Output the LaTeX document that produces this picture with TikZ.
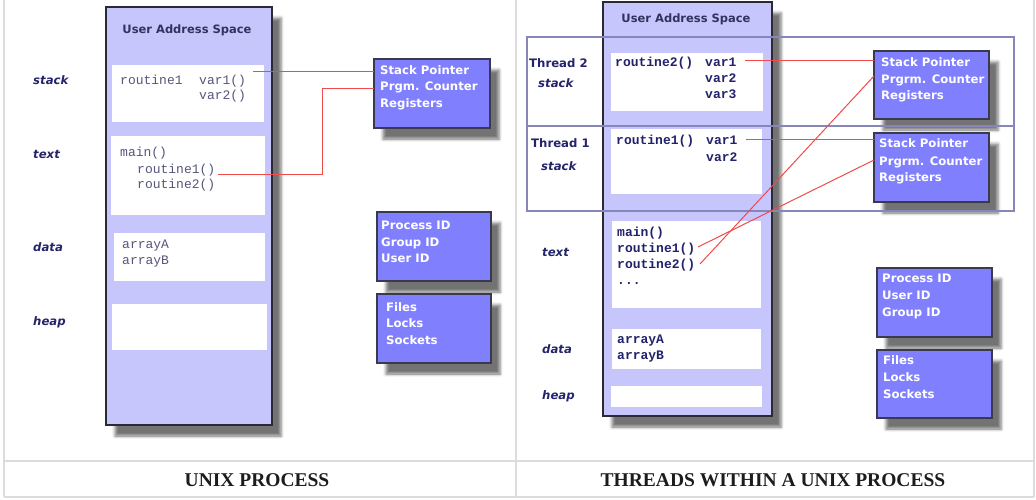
\documentclass[tikz,border=0pt]{standalone}
\usepackage{fontspec}
\usetikzlibrary{shadows.blur}
\newfontfamily\uisans{DejaVu Sans}
\newfontfamily\codemono{Liberation Mono}
\newfontfamily\capserif{Liberation Serif}
\definecolor{lav}{HTML}{C6C6FC}
\definecolor{regfill}{HTML}{8080FF}
\definecolor{regline}{HTML}{3A3A4E}
\definecolor{boxline}{HTML}{2A2A34}
\definecolor{navy}{HTML}{24246A}
\definecolor{titlenavy}{HTML}{32325E}
\definecolor{codegray}{HTML}{56567A}
\definecolor{codenavy}{HTML}{22226C}
\definecolor{wirered}{HTML}{F04A4A}
\definecolor{rulegray}{HTML}{DCDCDC}
\definecolor{rowline}{HTML}{8686B8}
\definecolor{capink}{HTML}{1C1C1C}
\begin{document}
\begin{tikzpicture}[x=1pt,y=-1pt,
  softshadow/.style={blur shadow={shadow xshift=9pt, shadow yshift=-11pt,
      shadow blur radius=3pt, shadow opacity=55}},
  addrbox/.style={draw=boxline, line width=1.3pt, fill=lav, inner sep=0pt,
      outer sep=0pt, anchor=north west, softshadow},
  segbox/.style={fill=white, inner sep=0pt, outer sep=0pt, anchor=north west},
  regbox/.style={draw=regline, line width=1.3pt, fill=regfill, inner sep=0pt,
      outer sep=0pt, anchor=north west, softshadow},
  title/.style={font=\uisans\fontsize{11.5}{13}\selectfont\bfseries,
      text=titlenavy, anchor=base, inner sep=0pt},
  seglabel/.style={font=\uisans\fontsize{11.7}{13}\selectfont\bfseries\itshape,
      text=navy, anchor=base west, inner sep=0pt},
  threadlabel/.style={font=\uisans\fontsize{11.7}{13}\selectfont\bfseries,
      text=navy, anchor=base west, inner sep=0pt},
  regtext/.style={font=\uisans\fontsize{11.7}{13}\selectfont\bfseries,
      text=white, anchor=base west, inner sep=0pt},
  codeL/.style={font=\codemono\fontsize{13}{15}\selectfont,
      text=codegray, anchor=base west, inner sep=0pt},
  codeR/.style={font=\codemono\fontsize{13}{15}\selectfont\bfseries,
      text=codenavy, anchor=base west, inner sep=0pt},
  caption/.style={font=\capserif\fontsize{19.5}{22}\selectfont\bfseries,
      text=capink, anchor=base, inner sep=0pt},
  rule/.style={draw=rulegray, line width=1.3pt},
  rowframe/.style={draw=rowline, line width=1.3pt},
  wire/.style={draw=wirered, line width=1pt}
]
\useasboundingbox (0,0) rectangle (1036,500);

% table rules
\draw[rule] (4,0) -- (4,497);
\draw[rule] (516,0) -- (516,497);
\draw[rule] (1034,0) -- (1034,497);
\draw[rule] (4,461) -- (1034,461);
\draw[rule] (4,497) -- (1034,497);

% ---------------- single-threaded process ----------------
\node[addrbox, minimum width=166pt, minimum height=418pt] (L) at (106,7) {};
\node[title] (Ltitle) at (187,34) {User Address Space};
\node[segbox, minimum width=152pt, minimum height=57pt] (Lstack) at (112,65) {};
\node[segbox, minimum width=154pt, minimum height=79pt] (Ltext) at (111,136) {};
\node[segbox, minimum width=151pt, minimum height=48pt] (Ldata) at (114,233) {};
\node[segbox, minimum width=155pt, minimum height=46pt] (Lheap) at (112,304) {};

\node[seglabel] (LlStack) at (33,85) {stack};
\node[seglabel] (LlText) at (33,159) {text};
\node[seglabel] (LlData) at (33,251) {data};
\node[seglabel] (LlHeap) at (33,325) {heap};

\node[codeL] (Lr1) at (120,85) {routine1};
\node[codeL] (Lv1) at (199,85) {var1()};
\node[codeL] (Lv2) at (199,100) {var2()};
\node[codeL] (Lmain) at (120,157) {main()};
\node[codeL] (Lcall1) at (137,173) {routine1()};
\node[codeL] (Lcall2) at (137,188) {routine2()};
\node[codeL] (LarrA) at (122,248) {arrayA};
\node[codeL] (LarrB) at (122,264) {arrayB};

\node[regbox, minimum width=116pt, minimum height=69pt] (Lregs) at (374,59) {};
\node[regtext] (Lrg1) at (380,75) {Stack Pointer};
\node[regtext] (Lrg2) at (380,91) {Prgm. Counter};
\node[regtext] (Lrg3) at (380,108) {Registers};

\node[regbox, minimum width=114pt, minimum height=69pt] (Lids) at (377,212) {};
\node[regtext] (Lid1) at (381,229) {Process ID};
\node[regtext] (Lid2) at (381,246) {Group ID};
\node[regtext] (Lid3) at (381,262) {User ID};

\node[regbox, minimum width=114pt, minimum height=69pt] (Lres) at (377,294) {};
\node[regtext] (Lrs1) at (386,311) {Files};
\node[regtext] (Lrs2) at (386,327) {Locks};
\node[regtext] (Lrs3) at (386,344) {Sockets};

\coordinate (Lw1) at (253,72);
\draw[wire] (Lw1) -- (Lw1 -| Lregs.west);
\coordinate (Lw2) at (218,174);
\coordinate (Lbend) at (322,89);
\draw[wire] (Lw2) -| (Lbend) -- (Lbend -| Lregs.west);

\node[caption] (capL) at (257,486) {UNIX PROCESS};

% ---------------- multi-threaded process ----------------
\node[addrbox, minimum width=169pt, minimum height=414pt] (R) at (603,2) {};
\node[title] (Rtitle) at (686,23) {User Address Space};

\node[regbox, minimum width=115pt, minimum height=68pt] (Rregs2) at (874,51) {};
\node[regbox, minimum width=115pt, minimum height=69pt] (Rregs1) at (874,133) {};
\node[regbox, minimum width=115pt, minimum height=69pt] (Rids) at (877,268) {};
\node[regbox, minimum width=115pt, minimum height=68pt] (Rres) at (877,350) {};

\draw[rowframe] (527,37) rectangle (1014,211);
\draw[rowframe] (527,126) -- (1014,126);

\node[segbox, minimum width=152pt, minimum height=58pt] (Rstack2) at (611,53) {};
\node[segbox, minimum width=151pt, minimum height=65pt] (Rstack1) at (611,129) {};
\node[segbox, minimum width=149pt, minimum height=87pt] (Rtext) at (612,221) {};
\node[segbox, minimum width=149pt, minimum height=40pt] (Rdata) at (612,329) {};
\node[segbox, minimum width=151pt, minimum height=21pt] (Rheap) at (611,386) {};

\node[threadlabel] (Rth2) at (529,68) {Thread 2};
\node[seglabel] (Rls2) at (538,88) {stack};
\node[threadlabel] (Rth1) at (531,148) {Thread 1};
\node[seglabel] (Rls1) at (541,170) {stack};
\node[seglabel] (RlText) at (542,256) {text};
\node[seglabel] (RlData) at (542,353) {data};
\node[seglabel] (RlHeap) at (542,399) {heap};

\node[codeR] (Rf2) at (615,67) {routine2()};
\node[codeR] (R2v1) at (705,67) {var1};
\node[codeR] (R2v2) at (705,83) {var2};
\node[codeR] (R2v3) at (705,99) {var3};
\node[codeR] (Rf1) at (616,145) {routine1()};
\node[codeR] (R1v1) at (706,145) {var1};
\node[codeR] (R1v2) at (706,161) {var2};
\node[codeR] (Rmain) at (617,236) {main()};
\node[codeR] (Rcall1) at (617,252) {routine1()};
\node[codeR] (Rcall2) at (617,268) {routine2()};
\node[codeR] (Rdots) at (617,284) {...};
\node[codeR] (RarrA) at (617,343) {arrayA};
\node[codeR] (RarrB) at (617,359) {arrayB};

\node[regtext] (R2g1) at (881,67) {Stack Pointer};
\node[regtext] (R2g2) at (881,84) {Prgrm. Counter};
\node[regtext] (R2g3) at (881,100) {Registers};
\node[regtext] (R1g1) at (879,148) {Stack Pointer};
\node[regtext] (R1g2) at (879,165) {Prgrm. Counter};
\node[regtext] (R1g3) at (879,182) {Registers};
\node[regtext] (Rid1) at (882,282) {Process ID};
\node[regtext] (Rid2) at (882,299) {User ID};
\node[regtext] (Rid3) at (882,316) {Group ID};
\node[regtext] (Rrs1) at (883,364) {Files};
\node[regtext] (Rrs2) at (883,381) {Locks};
\node[regtext] (Rrs3) at (883,398) {Sockets};

\coordinate (Rw1) at (745,61);
\draw[wire] (Rw1) -- (Rw1 -| Rregs2.west);
\coordinate (Rw2) at (746,140);
\draw[wire] (Rw2) -- (Rw2 -| Rregs1.west);
\coordinate (Rw3) at (698,247);
\draw[wire] (Rw3) -- ([yshift=7.5pt]Rregs1.west);
\coordinate (Rw4) at (700,264);
\draw[wire] (Rw4) -- ([yshift=9pt]Rregs2.west);

\node[caption] (capR) at (773,486) {THREADS WITHIN A UNIX PROCESS};
\end{tikzpicture}
\end{document}
